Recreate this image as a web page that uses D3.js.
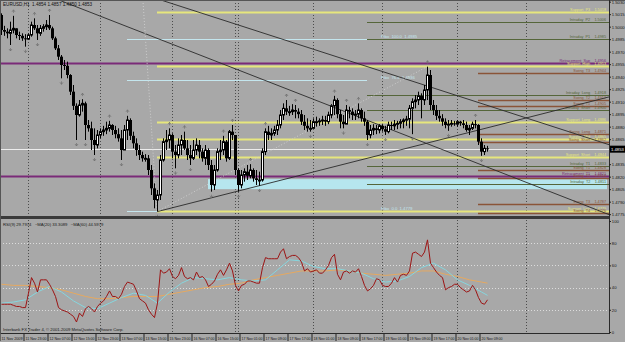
<!DOCTYPE html>
<html><head><meta charset="utf-8">
<script src="https://cdn.jsdelivr.net/npm/d3@7"></script>
<style>
body{margin:0;background:#a8a8a8}
svg{display:block}
text{font-family:"Liberation Sans",Arial,sans-serif;white-space:pre}
</style></head>
<body><svg id="c" width="625" height="342"></svg>
<script>
// ---------------- DATA ----------------
const symbol = "EURUSD,H1";
const firstOpen = 1.5014;
const close = [1.4996,1.4994,1.4992,1.4996,1.4998,1.4990,1.4989,1.4986,1.4985,1.4990,
1.5002,1.4998,1.4992,1.4998,1.5000,1.5002,1.4998,1.4986,1.4974,1.4964,
1.4954,1.4953,1.4942,1.4922,1.4905,1.4894,1.4906,1.4908,1.4882,1.4878,
1.4864,1.4858,1.4870,1.4874,1.4876,1.4878,1.4882,1.4876,1.4871,1.4866,
1.4852,1.4876,1.4888,1.4869,1.4860,1.4852,1.4846,1.4842,1.4842,1.4828,
1.4806,1.4792,1.4798,1.4840,1.4862,1.4864,1.4870,1.4850,1.4846,1.4858,
1.4864,1.4854,1.4846,1.4842,1.4852,1.4858,1.4850,1.4842,1.4852,1.4834,
1.4810,1.4828,1.4850,1.4852,1.4862,1.4842,1.4874,1.4870,1.4828,1.4810,
1.4822,1.4826,1.4821,1.4828,1.4818,1.4816,1.4816,1.4850,1.4874,1.4870,
1.4872,1.4876,1.4882,1.4894,1.4902,1.4898,1.4898,1.4900,1.4898,1.4895,
1.4886,1.4881,1.4878,1.4878,1.4886,1.4886,1.4887,1.4888,1.4886,1.4894,
1.4905,1.4912,1.4895,1.4886,1.4883,1.4900,1.4898,1.4894,1.4895,1.4900,
1.4890,1.4886,1.4870,1.4876,1.4878,1.4876,1.4881,1.4877,1.4874,1.4882,
1.4881,1.4883,1.4884,1.4886,1.4888,1.4889,1.4902,1.4910,1.4912,1.4917,
1.4912,1.4924,1.4942,1.4906,1.4900,1.4893,1.4890,1.4886,1.4882,1.4883,
1.4884,1.4883,1.4886,1.4884,1.4882,1.4876,1.4878,1.4883,1.4882,1.4862,
1.4850,1.4854,1.4853];
const high = [1.5016,1.5001,1.4998,1.5006,1.5013,1.4998,1.4994,1.4992,1.4991,1.4992,
1.5006,1.5010,1.5002,1.5002,1.5003,1.5008,1.5014,1.5000,1.4988,1.4978,
1.4966,1.4960,1.4958,1.4943,1.4930,1.4908,1.4912,1.4913,1.4910,1.4888,
1.4886,1.4878,1.4876,1.4878,1.4881,1.4886,1.4887,1.4883,1.4881,1.4878,
1.4876,1.4882,1.4893,1.4890,1.4874,1.4866,1.4858,1.4850,1.4847,1.4846,
1.4834,1.4812,1.4804,1.4846,1.4866,1.4876,1.4878,1.4872,1.4858,1.4866,
1.4870,1.4874,1.4864,1.4858,1.4864,1.4866,1.4864,1.4854,1.4858,1.4854,
1.4840,1.4834,1.4854,1.4864,1.4869,1.4864,1.4876,1.4882,1.4870,1.4830,
1.4828,1.4830,1.4834,1.4835,1.4830,1.4828,1.4826,1.4854,1.4878,1.4881,
1.4878,1.4881,1.4888,1.4900,1.4908,1.4912,1.4905,1.4907,1.4906,1.4902,
1.4900,1.4894,1.4890,1.4888,1.4890,1.4892,1.4890,1.4893,1.4893,1.4898,
1.4907,1.4917,1.4914,1.4900,1.4894,1.4906,1.4904,1.4902,1.4900,1.4908,
1.4902,1.4898,1.4888,1.4882,1.4883,1.4882,1.4883,1.4883,1.4881,1.4886,
1.4886,1.4888,1.4887,1.4889,1.4890,1.4893,1.4906,1.4914,1.4918,1.4922,
1.4920,1.4930,1.4952,1.4948,1.4912,1.4906,1.4900,1.4895,1.4890,1.4888,
1.4888,1.4887,1.4888,1.4887,1.4888,1.4886,1.4882,1.4886,1.4888,1.4883,
1.4866,1.4858,1.4857];
const low = [1.4990,1.4989,1.4986,1.4978,1.4992,1.4986,1.4984,1.4983,1.4976,1.4984,
1.4988,1.4996,1.4984,1.4989,1.4994,1.4996,1.4996,1.4984,1.4972,1.4960,
1.4938,1.4948,1.4938,1.4918,1.4900,1.4864,1.4892,1.4898,1.4864,1.4874,
1.4852,1.4846,1.4854,1.4866,1.4869,1.4871,1.4874,1.4870,1.4866,1.4862,
1.4840,1.4852,1.4864,1.4864,1.4854,1.4845,1.4840,1.4838,1.4838,1.4822,
1.4798,1.4782,1.4778,1.4792,1.4838,1.4852,1.4854,1.4842,1.4830,1.4842,
1.4846,1.4852,1.4840,1.4834,1.4840,1.4846,1.4842,1.4838,1.4834,1.4828,
1.4802,1.4804,1.4826,1.4840,1.4846,1.4838,1.4840,1.4864,1.4822,1.4802,
1.4806,1.4814,1.4816,1.4818,1.4814,1.4810,1.4809,1.4814,1.4846,1.4864,
1.4864,1.4869,1.4870,1.4878,1.4888,1.4894,1.4893,1.4894,1.4890,1.4890,
1.4882,1.4876,1.4874,1.4874,1.4878,1.4880,1.4881,1.4882,1.4881,1.4883,
1.4890,1.4894,1.4890,1.4878,1.4878,1.4883,1.4890,1.4888,1.4888,1.4890,
1.4886,1.4881,1.4864,1.4866,1.4870,1.4871,1.4872,1.4874,1.4870,1.4872,
1.4876,1.4876,1.4877,1.4878,1.4878,1.4881,1.4878,1.4871,1.4902,1.4906,
1.4890,1.4906,1.4912,1.4900,1.4894,1.4888,1.4886,1.4881,1.4878,1.4875,
1.4880,1.4881,1.4880,1.4881,1.4878,1.4874,1.4870,1.4876,1.4878,1.4858,
1.4845,1.4846,1.4850];
const fractalUp = [4,11,16,27,36,42,56,61,74,77,83,88,95,98,111,115,119,142,158];
const fractalDown = [3,8,12,20,25,28,31,40,52,58,63,70,79,86,103,114,122,128,137,149,160];

const rsi = [25,25,25,25,24,23,23,22,22,35,49,44,36,47,47,47,43,38,32,22,
20,19,18,16,14,9,17,14,21,23,21,18,23,26,28,32,37,32,32,30,
34,41,45,44,43,37,30,28,26,20,16,13,26,56,53,54,57,50,48,51,
58,50,48,49,47,54,49,50,47,41,43,46,52,56,51,56,62,55,42,37,
42,43,46,46,45,44,44,58,67,66,66,66,66,72,75,66,68,69,69,67,
63,55,57,54,55,56,53,53,56,60,67,70,52,47,54,55,53,55,54,57,
50,42,37,39,42,48,47,42,41,41,44,49,45,51,52,51,55,71,72,70,
68,72,83,62,58,54,51,49,38,40,41,43,43,40,38,36,37,42,38,31,
26,25,29];
const maBars = [0,4,8,12,16,20,24,28,32,36,40,44,48,52,56,60,64,68,72,76,80,84,88,92,96,100,104,108,112,116,120,124,128,132,136,140,144,148,152,156,160,162];
const ma20 = [26,27,29,36,41,36,28,22,21,26,31,35,33,26,36,44,49,48,47,49,47,46,47,56,65,64,59,57,57,55,53,48,45,46,50,58,62,56,47,42,36,33];
const ma60 = [43,42,42,41,40,38,35,32,30,30,31,32,32,32,34,36,38,40,41,43,44,47,49,51,53,55,55,55,56,55,53,52,51,52,53,55,55,52,50,47,45,44];

const timeLabels = ["11 Nov 2009","11 Nov 23:00","12 Nov 07:00","12 Nov 15:00","12 Nov 23:00","13 Nov 07:00","13 Nov 15:00","15 Nov 23:00","16 Nov 07:00","16 Nov 15:00","17 Nov 01:00","17 Nov 09:00","17 Nov 17:00","18 Nov 01:00","18 Nov 09:00","18 Nov 17:00","19 Nov 01:00","19 Nov 09:00","19 Nov 17:00","20 Nov 01:00","20 Nov 09:00"];
const barsPerLabel = 8;
// (the 1.4850 label sits under the current-price box in the reference, so it is not shown)
const priceTicks = [1.5030,1.5015,1.5000,1.4985,1.4970,1.4955,1.4940,1.4925,1.4910,1.4895,1.4880,1.4865,1.4835,1.4820,1.4805,1.4790,1.4775];
const rsiTicks = [100,80,60,40,20,0];
const rsiLevels = [80,60,40,20];
const gridBars = [9,33,57,79,104,127,152,175];
const markerBars = [78];

// horizontal levels: name, price, kind
const levelNames  = ["Support  P3","Support  High","Support  Long","Support  Mid","Support  Short","Support  Low",
  "Intraday  P2","Intraday  P1","Intraday  Long","Intraday  Short","Intraday  T1","Intraday  T2",
  "Swing  T3","Swing  T2","Swing  T1","Swing  Long","Swing  Short","Swing  T1","Swing  T2","Swing  T3","Swing  T4",
  "Retracement  Sup","Retracement  T1"];
const levelPrices = [1.5018,1.4953,1.4886,1.4865,1.4844,1.4779,
  1.5006,1.4985,1.4918,1.4900,1.4833,1.4811,
  1.4944,1.4912,1.4905,1.4871,1.4862,1.4828,1.4818,1.4787,1.4776,
  1.4956,1.4821];
const levelKinds  = ["s","s","s","s","s","s","i","i","i","i","i","i","w","w","w","w","w","w","w","w","w","r","r"];
const kindFrom = {s:52, i:122, w:159, r:0};
const kindColor = {s:"#e6e67c", i:"#55663a", w:"#8a5438", r:"#7a2a78"};
const kindWidth = {s:2, i:1, w:1.3, r:2};

const fiboNames = ["Fibo  100.0","Fibo  76.4","Fibo  0.0"];
const fiboPrices = [1.4985,1.4936,1.4779];
const fiboFrom = 42, fiboTo = 122;

const zoneTop = 1.4817, zoneBottom = 1.4805, zoneFrom = 69, zoneTo = 202;

const trendLines = [ // [bar1, price1, bar2, price2]
  [53.3,1.5032,203,1.4858],
  [19.3,1.5032,203,1.4774],
  [52,1.4778,203,1.4916]];
const dottedLines = [
  [47.3,1.5032,52,1.4778],
  [52,1.4778,142,1.4952]];

// ---------------- DRAW ----------------
const W = 625, H = 342, R = 609;
const FS = 4.2;
const svg = d3.select("#c");
svg.append("rect").attr("width",W).attr("height",H).attr("fill","#a8a8a8");

const x = d3.scaleLinear().domain([0,203]).range([1,610]);
const y = d3.scaleLinear().domain([1.5032,1.4774]).range([0,215]);
const yr = d3.scaleLinear().domain([0,100]).range([332,221]);

const defs = svg.append("defs");
defs.append("clipPath").attr("id","cm").append("rect").attr("x",0).attr("y",0).attr("width",R).attr("height",216);
defs.append("clipPath").attr("id","cr").append("rect").attr("x",0).attr("y",220).attr("width",R).attr("height",113);

const gm = svg.append("g").attr("clip-path","url(#cm)");
const gr = svg.append("g").attr("clip-path","url(#cr)");

// grid
[gm,gr].forEach((g,k)=>{
  const y0 = k? 220:0, y1 = k? 333:216;
  g.selectAll(".grid").data(gridBars.concat(markerBars)).join("line")
   .attr("x1",d=>x(d)+0.5).attr("x2",d=>x(d)+0.5).attr("y1",y0).attr("y2",y1)
   .attr("stroke","#4c4c4c").attr("stroke-width",1).attr("stroke-dasharray","1,2");
});

// zone rectangle
gm.append("rect").attr("x",x(zoneFrom)).attr("width",x(zoneTo)-x(zoneFrom))
  .attr("y",y(zoneTop)).attr("height",y(zoneBottom)-y(zoneTop)).attr("fill","#b6e6ee");

// fibo lines
gm.selectAll(".fib").data(fiboPrices).join("line")
  .attr("x1",x(fiboFrom)).attr("x2",x(fiboTo)).attr("y1",d=>Math.round(y(d))+0.5).attr("y2",d=>Math.round(y(d))+0.5)
  .attr("stroke","#c4e6ee").attr("stroke-width",1.2);
gm.selectAll(".fibt").data(fiboPrices).join("text")
  .attr("x",x(fiboTo)+14).attr("y",d=>y(d)-1).attr("font-size",FS).attr("fill","#c4e6ee")
  .text((d,i)=>fiboNames[i]+"  "+d.toFixed(4));

// levels
const levels = levelPrices.map((p,i)=>({p,name:levelNames[i],k:levelKinds[i]}));
gm.selectAll(".lvl").data(levels).join("line")
  .attr("x1",d=>x(kindFrom[d.k])).attr("x2",R)
  .attr("y1",d=>Math.round(y(d.p))+0.5).attr("y2",d=>Math.round(y(d.p))+0.5)
  .attr("stroke",d=>kindColor[d.k]).attr("stroke-width",d=>kindWidth[d.k]);
gm.selectAll(".lvlt").data(levels).join("text")
  .attr("x",606).attr("y",d=>y(d.p)-1).attr("text-anchor","end").attr("font-size",3.8)
  .attr("fill",d=>kindColor[d.k])
  .text(d=>d.name+"    "+d.p.toFixed(4));

// bid line
const last = close.length-1;
gm.append("line").attr("x1",0).attr("x2",R).attr("y1",Math.round(y(close[last]))+0.5).attr("y2",Math.round(y(close[last]))+0.5)
  .attr("stroke","#ececec").attr("stroke-width",1);

// trend lines
gm.selectAll(".tl").data(trendLines).join("line")
  .attr("x1",d=>x(d[0])).attr("y1",d=>y(d[1])).attr("x2",d=>x(d[2])).attr("y2",d=>y(d[3]))
  .attr("stroke","#2a2a2a").attr("stroke-width",0.9);
gm.selectAll(".dl").data(dottedLines).join("line")
  .attr("x1",d=>x(d[0])).attr("y1",d=>y(d[1])).attr("x2",d=>x(d[2])).attr("y2",d=>y(d[3]))
  .attr("stroke","#d0d0d0").attr("stroke-width",0.9).attr("stroke-dasharray","1,2");

// candles
const bars = close.map((c,i)=>({i,c,o:i?close[i-1]:firstOpen,h:high[i],l:low[i]}));
const cg = gm.append("g");
cg.selectAll(".wk").data(bars).join("line")
  .attr("x1",d=>x(d.i)+0.5).attr("x2",d=>x(d.i)+0.5)
  .attr("y1",d=>y(Math.max(d.h,d.o,d.c))).attr("y2",d=>y(Math.min(d.l,d.o,d.c)))
  .attr("stroke","#000").attr("stroke-width",1);
cg.selectAll(".bd").data(bars).join("rect")
  .attr("x",d=>d.c>=d.o? x(d.i)-0.5 : x(d.i)-1)
  .attr("width",d=>d.c>=d.o? 2 : 3)
  .attr("y",d=>y(Math.max(d.o,d.c)))
  .attr("height",d=>Math.max(1,Math.abs(y(d.o)-y(d.c))))
  .attr("fill",d=>d.c>=d.o?"#ffffff":"#000000")
  .attr("stroke",d=>d.c>=d.o?"#000":"none").attr("stroke-width",1);

// fractals
gm.selectAll(".fu").data(fractalUp).join("path")
  .attr("d",i=>{const cx=x(i)+0.5, t=y(high[i])-6; return `M${cx-1.5},${t+2}L${cx},${t}L${cx+1.5},${t+2}M${cx},${t}L${cx},${t+3}`;})
  .attr("fill","none").attr("stroke","#6e6e6e").attr("stroke-width",0.7);
gm.selectAll(".fd").data(fractalDown).join("path")
  .attr("d",i=>{const cx=x(i)+0.5, t=y(low[i])+6; return `M${cx-1.5},${t-2}L${cx},${t}L${cx+1.5},${t-2}M${cx},${t}L${cx},${t-3}`;})
  .attr("fill","none").attr("stroke","#6e6e6e").attr("stroke-width",0.7);

// title
const lb = bars[last];
svg.append("text").attr("x",3).attr("y",6).attr("font-size",4.6).attr("fill","#111")
  .text(`${symbol}  ${lb.o.toFixed(4)} ${lb.h.toFixed(4)} ${lb.l.toFixed(4)} ${lb.c.toFixed(4)}`);

// panel frames
svg.append("line").attr("x1",0).attr("x2",W).attr("y1",0.5).attr("y2",0.5).attr("stroke","#555");
svg.append("rect").attr("x",0).attr("y",216).attr("width",R).attr("height",3).attr("fill","#3a3a3a");
svg.append("line").attr("x1",0).attr("x2",R).attr("y1",333.5).attr("y2",333.5).attr("stroke","#2a2a2a");
svg.append("line").attr("x1",R+0.5).attr("x2",R+0.5).attr("y1",0).attr("y2",334).attr("stroke","#2a2a2a");
svg.append("line").attr("x1",0.5).attr("x2",0.5).attr("y1",0).attr("y2",334).attr("stroke","#555");

// price axis
const pa = svg.append("g").attr("transform",`translate(${R},0)`)
  .call(d3.axisRight(y).tickValues(priceTicks).tickSize(2).tickPadding(0.8).tickFormat(d3.format(".4f")));
pa.select(".domain").remove();
pa.selectAll("line").attr("stroke","#222");
pa.selectAll("text").attr("font-size",FS).attr("fill","#151515").attr("font-family","Liberation Sans, Arial");

// current price box
svg.append("rect").attr("x",R+1).attr("y",y(close[last])-3.5).attr("width",W-R-1).attr("height",7).attr("fill","#000");
svg.append("text").attr("x",R+2).attr("y",y(close[last])+1.6).attr("font-size",FS).attr("fill","#fff").text(close[last].toFixed(4));

// RSI panel
gr.selectAll(".rl").data(rsiLevels).join("line")
  .attr("x1",0).attr("x2",R).attr("y1",d=>Math.round(yr(d))+0.5).attr("y2",d=>Math.round(yr(d))+0.5)
  .attr("stroke","#dcdcdc").attr("stroke-dasharray","1,2");
const lineR = d3.line().x((d,i)=>x(i)+0.5).y(d=>yr(d));
const lineM = d3.line().x(d=>x(d[0])+0.5).y(d=>yr(d[1]));
gr.append("path").attr("d",lineM(maBars.map((b,k)=>[b,ma60[k]]))).attr("fill","none").attr("stroke","#e6a860").attr("stroke-width",1);
gr.append("path").attr("d",lineM(maBars.map((b,k)=>[b,ma20[k]]))).attr("fill","none").attr("stroke","#86d6de").attr("stroke-width",1);
gr.append("path").attr("d",lineR(rsi)).attr("fill","none").attr("stroke","#9c1414").attr("stroke-width",1);

svg.append("text").attr("x",3).attr("y",226).attr("font-size",FS).attr("fill","#1a1a1a")
  .text("RSI(9) 29.7974   ~MA(20) 33.3089   ~MA(60) 44.5979");
svg.append("text").attr("x",3).attr("y",331).attr("font-size",FS).attr("fill","#1a1a1a")
  .text("Interbank FX Trader 4, © 2001-2009 MetaQuotes Software Corp.");

const ra = svg.append("g").attr("transform",`translate(${R},0)`)
  .call(d3.axisRight(yr).tickValues(rsiTicks).tickSize(2).tickPadding(0.8).tickFormat(d3.format("d")));
ra.select(".domain").remove();
ra.selectAll("line").attr("stroke","#222");
ra.selectAll("text").attr("font-size",FS).attr("fill","#151515").attr("font-family","Liberation Sans, Arial");

// time axis
const tBars = timeLabels.map((t,k)=>k*barsPerLabel);
const ta = svg.append("g").attr("transform","translate(0,334)")
  .call(d3.axisBottom(x).tickValues(tBars).tickSize(7).tickFormat((d,k)=>timeLabels[k]));
ta.select(".domain").remove();
ta.selectAll("line").attr("stroke","#222").attr("transform","translate(-1.5,0)");
ta.selectAll("text").attr("text-anchor","start").attr("x",0).attr("y",6.3).attr("dy",0)
  .attr("font-size",4.4).attr("textLength",21).attr("lengthAdjust","spacingAndGlyphs")
  .attr("fill","#151515").attr("font-family","Liberation Sans, Arial");
</script></body></html>
